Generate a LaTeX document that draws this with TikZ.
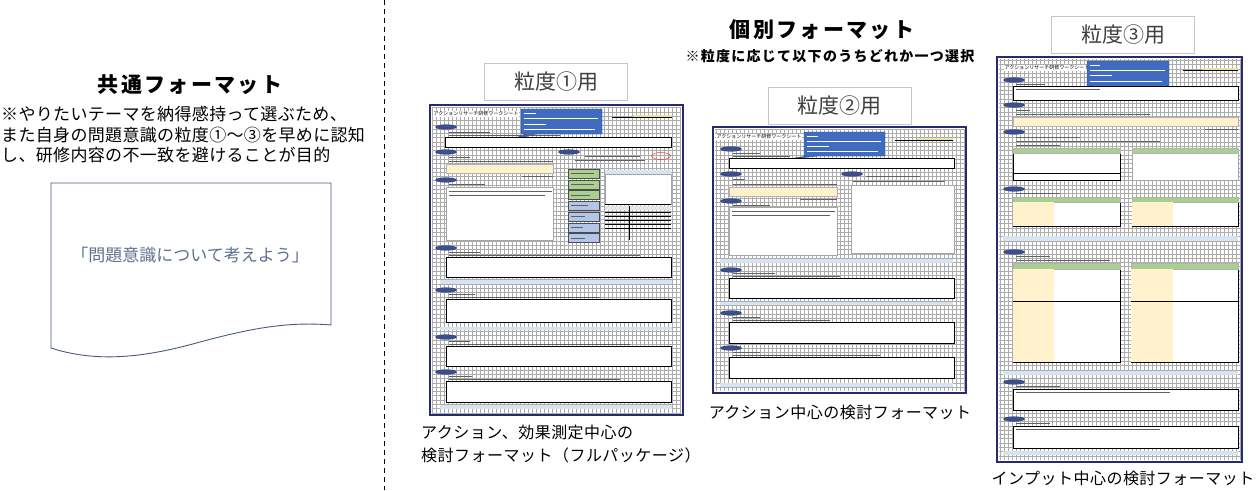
\documentclass[tikz,border=0pt]{standalone}
\usepackage{fontspec}
\setmainfont{Noto Sans CJK JP}
\usepackage{tikz}
\usetikzlibrary{positioning}
\definecolor{navy}{HTML}{262A6E}
\definecolor{markblue}{HTML}{3B4F8C}
\definecolor{callblue}{HTML}{3F6BC0}
\definecolor{paleyellow}{HTML}{FFF2CC}
\definecolor{paleblue}{HTML}{D6E4F2}
\definecolor{btngreen}{HTML}{A9D08E}
\definecolor{btnblue}{HTML}{B4C6E7}
\definecolor{docline}{HTML}{4A5A78}
\definecolor{doctext}{HTML}{5E7190}
\definecolor{labeltext}{HTML}{404040}
\definecolor{lineyellow}{HTML}{E8E4A0}
\tikzset{
    %Define style for headings
    heading/.style={
           inner sep=0pt,
           font=\bfseries\fontsize{21}{22}\selectfont\addfontfeature{LetterSpace=11}},
    subheading/.style={
           inner sep=0pt,
           font=\bfseries\fontsize{14}{16}\selectfont\addfontfeature{LetterSpace=9}},
    note/.style={
           inner sep=0pt,
           align=left,
           font=\fontsize{17}{20.5}\selectfont\addfontfeature{LetterSpace=2}},
    caption/.style={
           inner sep=0pt,
           font=\fontsize{16}{23}\selectfont\addfontfeature{LetterSpace=3}},
    %Define style for boxes
    labelbox/.style={
           rectangle,
           draw=gray!45, fill=white,
           line width=0.6pt,
           minimum width=143pt,
           minimum height=37pt,
           text=labeltext,
           font=\fontsize{21}{22}\selectfont},
    docshape/.style={
           draw=docline, fill=white,
           line width=0.9pt},
    doctext/.style={
           inner sep=0pt,
           text=doctext,
           font=\fontsize{17}{18}\selectfont},
    separator/.style={
           draw=black,
           line width=1pt,
           dash pattern=on 5pt off 4pt},
    %Define style for worksheet parts
    sheet/.style={draw=navy, line width=1.3pt, fill=white},
    gridbg/.style={draw=gray!65, line width=0.35pt, xstep=4pt, ystep=4.3pt},
    sheettitle/.style={
           inner sep=0.5pt,
           fill=white,
           font=\fontsize{5}{5}\selectfont},
    whitebox/.style={draw=black, fill=white, line width=0.6pt},
    softbox/.style={draw=gray!70, fill=white, line width=0.4pt},
    yellowbox/.style={draw=gray!60, fill=paleyellow, line width=0.4pt},
    greenhead/.style={draw=gray!60, fill=btngreen, line width=0.3pt},
    lightbar/.style={fill=paleblue},
    secmark/.style={fill=markblue, draw=navy, line width=0.3pt},
    callout/.style={fill=callblue, draw=callblue!70!black, line width=0.4pt},
    calltext/.style={draw=white, line width=0.7pt},
    txtline/.style={draw=gray!75!black, line width=0.45pt},
    greenbtn/.style={draw=black!70, fill=btngreen, line width=0.7pt},
    bluebtn/.style={draw=black!70, fill=btnblue, line width=0.7pt}
}
\begin{document}
\begin{tikzpicture}[x=1pt,y=-1pt]
\useasboundingbox (0,0) rectangle (1258,490);
 %common format
\node[heading](common) at (190,85){共通フォーマット};
\node[note, anchor=west](commonnote) at (1,135){※やりたいテーマを納得感持って選ぶため、\\また自身の問題意識の粒度①〜③を早めに認知\\し、研修内容の不一致を避けることが目的};
\draw[docshape] (51,183) -- (331,183) -- (331,325) .. controls (285,321) and (245,330) .. (200,342) .. controls (150,356) and (100,364) .. (51,348) -- cycle;
\node[doctext](doctitle) at (190,255){「問題意識について考えよう」};
 %separator
\coordinate (septop) at (384,0);
\coordinate (sepbot) at (384,490);
\draw[separator] (septop) -- (sepbot);
 %individual formats
\node[heading](indiv) at (822,30){個別フォーマット};
\node[subheading](indivnote) at (830,56){※粒度に応じて以下のうちどれか一つ選択};
\node[labelbox](lbl1) at (556,81.5){粒度①用};
\node[labelbox](lbl2) at (839.5,105.5){粒度②用};
\node[labelbox](lbl3) at (1123,34.5){粒度③用};
\node[caption, anchor=west, align=left](cap1) at (421,444.5){アクション、効果測定中心の\\検討フォーマット（フルパッケージ）};
\node[caption](cap2) at (840,412){アクション中心の検討フォーマット};
\node[caption](cap3) at (1123,478){インプット中心の検討フォーマット};

 %sheet 1
\path[sheet] (430,105) rectangle (683,415);
\draw[gridbg] (432,413) grid (681,107);
\draw[navy, line width=1.3pt] (430,105) rectangle (683,415);
\node[sheettitle, anchor=west](s1title) at (433,114){アクションリサーチ研修ワークシート};
\filldraw[callout] (521,109) -- (602,109) -- (602,134) -- (536,134) -- (505,142) -- (526,134) -- (521,134) -- cycle;
\draw[calltext] (524,113) -- (536,113) (524,118) -- (598,118) (524,124) -- (546,124) (524,129) -- (595,129);
\draw[black, line width=0.5pt] (612,117) -- (672,117);
\draw[lineyellow, line width=1.2pt] (633,116) -- (672,116);
\fill[secmark] (446,127) ellipse [x radius=10.5, y radius=2.3];
\draw[txtline] (449,132) -- (490,132) (449,135) -- (560,135);
\path[whitebox] (445,137) rectangle (671,147);
\fill[secmark] (446,152) ellipse [x radius=10.5, y radius=2.3];
\fill[secmark] (569,152) ellipse [x radius=10.5, y radius=2.3];
\draw[txtline] (449,157) -- (470,157) (449,161) -- (553,161);
\path[yellowbox] (446,164) rectangle (553,173);
\draw[txtline] (522,176) -- (553,176);
\fill[secmark] (446,180) ellipse [x radius=10.5, y radius=2.3];
\draw[txtline] (449,184) -- (485,184);
\path[softbox] (446,187) rectangle (553,240);
\draw[txtline] (449,191) -- (552,191) (449,195) -- (545,195);
\draw[txtline] (585,156) -- (640,156) (575,160) -- (645,160);
\draw[red!80, line width=0.5pt] (661,156) ellipse [x radius=9.5, y radius=3.5];
\path[greenbtn] (568,169) rectangle (599,178);
\path[greenbtn] (568,180) rectangle (599,189);
\path[greenbtn] (568,190.5) rectangle (599,199.5);
\path[bluebtn] (568,201) rectangle (599,210);
\path[bluebtn] (568,212) rectangle (599,221);
\path[bluebtn] (568,223) rectangle (599,232);
\path[bluebtn] (568,233.5) rectangle (599,242.5);
\draw[txtline] (571,173.5) -- (594,173.5) (571,184.5) -- (594,184.5) (571,195) -- (590,195) (571,205.5) -- (588,205.5) (571,216.5) -- (585,216.5) (571,227.5) -- (583,227.5) (571,238) -- (585,238);
\fill[paleblue] (605,170) rectangle (671,174);
\path[softbox] (605,174) rectangle (671,204);
\draw[black, line width=1pt] (605,204.5) -- (671,204.5);
\fill[gray!20] (605,206) rectangle (671,210);
\draw[black, line width=0.5pt] (605,212) -- (671,212) (605,216) -- (671,216) (605,220) -- (671,220) (605,224) -- (671,224) (605,228) -- (671,228);
\draw[black, line width=0.6pt] (629,206) -- (629,240);
\fill[secmark] (446,248) ellipse [x radius=10.5, y radius=2.3];
\draw[txtline] (449,252) -- (480,252) (449,255) -- (640,255);
\path[whitebox] (446,257) rectangle (671,277);
\fill[lightbar] (440,280) rectangle (672,284);
\fill[secmark] (446,290) ellipse [x radius=10.5, y radius=2.3];
\draw[txtline] (449,294) -- (475,294) (449,297) -- (600,297);
\path[whitebox] (446,299) rectangle (671,322);
\fill[lightbar] (440,327) rectangle (672,330);
\fill[secmark] (446,337) ellipse [x radius=10.5, y radius=2.3];
\draw[txtline] (449,341) -- (470,341) (449,344) -- (630,344);
\path[whitebox] (446,346) rectangle (671,366);
\fill[secmark] (446,372) ellipse [x radius=10.5, y radius=2.3];
\draw[txtline] (449,376) -- (472,376) (449,379) -- (620,379);
\path[whitebox] (446,381) rectangle (671,402);
\fill[lightbar] (440,405) rectangle (672,409);

 %sheet 2
\path[sheet] (713,127) rectangle (966,393);
\draw[gridbg] (715,391) grid (964,129);
\draw[navy, line width=1.3pt] (713,127) rectangle (966,393);
\node[sheettitle, anchor=west](s2title) at (716,137){アクションリサーチ研修ワークシート};
\filldraw[callout] (804,132) -- (885,132) -- (885,156) -- (818,156) -- (788,159) -- (808,156) -- (804,156) -- cycle;
\draw[calltext] (807,136) -- (818,136) (807,141) -- (881,141) (807,146) -- (829,146) (807,151) -- (878,151);
\draw[black, line width=0.5pt] (895,140) -- (953,140);
\draw[lineyellow, line width=1.2pt] (917,139) -- (953,139);
\fill[secmark] (731,149) ellipse [x radius=10.5, y radius=2.3];
\draw[txtline] (733,153) -- (760,153) (733,156) -- (790,156);
\path[whitebox] (729,158) rectangle (954,168);
\fill[secmark] (731,174) ellipse [x radius=10.5, y radius=2.3];
\fill[secmark] (852,174) ellipse [x radius=10.5, y radius=2.3];
\draw[txtline] (733,179) -- (745,179) (733,184) -- (837,184);
\draw[txtline] (866,176) -- (920,176) (853,181) -- (945,181);
\path[yellowbox] (729,187) rectangle (837,196);
\draw[txtline] (800,199) -- (837,199);
\fill[secmark] (731,201) ellipse [x radius=10.5, y radius=2.3];
\draw[txtline] (733,205) -- (770,205);
\path[softbox] (729,207) rectangle (837,255);
\draw[txtline] (732,211) -- (835,211) (732,215) -- (830,215);
\path[softbox] (851,185) rectangle (954,253);
\fill[lightbar] (720,259) rectangle (953,263);
\fill[secmark] (731,270) ellipse [x radius=10.5, y radius=2.3];
\draw[txtline] (733,273) -- (775,273) (733,276) -- (840,276);
\path[whitebox] (729,278) rectangle (954,298);
\fill[lightbar] (720,302) rectangle (953,305);
\fill[secmark] (731,313) ellipse [x radius=10.5, y radius=2.3];
\draw[txtline] (733,317) -- (760,317) (733,320) -- (830,320);
\path[whitebox] (729,322) rectangle (954,343);
\fill[secmark] (731,348) ellipse [x radius=10.5, y radius=2.3];
\draw[txtline] (733,352) -- (760,352) (733,355) -- (880,355);
\path[whitebox] (729,357) rectangle (954,378);
\fill[lightbar] (720,383) rectangle (953,387);

 %sheet 3
\path[sheet] (997,57) rectangle (1242,462);
\draw[gridbg] (999,460) grid (1240,59);
\draw[navy, line width=1.3pt] (997,57) rectangle (1242,462);
\node[sheettitle, anchor=west](s3title) at (1004,68){アクションリサーチ研修ワークシート};
\filldraw[callout] (1087,61) -- (1169,61) -- (1169,87) -- (1100,87) -- (1080,90) -- (1091,87) -- (1087,87) -- cycle;
\draw[calltext] (1090,65) -- (1100,65) (1090,70) -- (1165,70) (1090,75) -- (1112,75) (1090,81) -- (1162,81);
\draw[black, line width=0.5pt] (1183,70) -- (1238,70);
\draw[lineyellow, line width=1.2pt] (1203,69) -- (1238,69);
\fill[secmark] (1014,80) ellipse [x radius=10.5, y radius=2.3];
\draw[txtline] (1016,84) -- (1045,84);
\path[whitebox] (1013,86) rectangle (1238,100);
\draw[txtline] (1016,89) -- (1100,89);
\fill[secmark] (1014,105) ellipse [x radius=10.5, y radius=2.3];
\draw[txtline] (1016,110) -- (1030,110) (1016,114) -- (1150,114);
\path[yellowbox] (1013,117) rectangle (1238,126);
\draw[txtline] (1205,129) -- (1238,129);
\fill[secmark] (1014,132) ellipse [x radius=10.5, y radius=2.3];
\draw[txtline] (1016,137) -- (1080,137) (1016,141) -- (1160,141) (1016,145) -- (1060,145);
\path[whitebox] (1013,148) rectangle (1120,180);
\path[greenhead] (1013,148) rectangle (1120,153);
\draw[black, line width=0.6pt] (1013,173) -- (1120,173);
\path[softbox] (1132,148) rectangle (1238,180);
\path[greenhead] (1132,148) rectangle (1238,153);
\fill[secmark] (1014,189) ellipse [x radius=10.5, y radius=2.3];
\draw[txtline] (1016,193) -- (1060,193);
\path[whitebox] (1013,197) rectangle (1120,226);
\path[greenhead] (1013,197) rectangle (1120,202);
\fill[paleyellow] (1013.3,202.3) rectangle (1054,225.7);
\path[whitebox] (1132,197) rectangle (1238,226);
\path[greenhead] (1132,197) rectangle (1238,202);
\fill[paleyellow] (1132.3,202.3) rectangle (1173,225.7);
\fill[lightbar] (1003,236) rectangle (1238,241);
\fill[secmark] (1014,252) ellipse [x radius=10.5, y radius=2.3];
\draw[txtline] (1016,256) -- (1050,256) (1016,260) -- (1110,260);
\path[whitebox] (1013,263) rectangle (1120,362);
\path[greenhead] (1013,263) rectangle (1120,269);
\fill[paleyellow] (1013.3,269.3) rectangle (1054,361.7);
\draw[black, line width=0.6pt] (1013,301) -- (1120,301);
\path[whitebox] (1131,263) rectangle (1238,362);
\path[greenhead] (1131,263) rectangle (1238,269);
\fill[paleyellow] (1131.3,269.3) rectangle (1173,361.7);
\draw[black, line width=0.6pt] (1131,301) -- (1238,301);
\fill[lightbar] (1003,371) rectangle (1238,375);
\fill[secmark] (1014,382) ellipse [x radius=10.5, y radius=2.3];
\draw[txtline] (1016,386) -- (1060,386);
\path[whitebox] (1013,389) rectangle (1238,410);
\draw[txtline] (1016,392) -- (1170,392);
\fill[secmark] (1014,419) ellipse [x radius=10.5, y radius=2.3];
\draw[txtline] (1016,423) -- (1050,423);
\path[whitebox] (1013,426) rectangle (1238,448);
\draw[txtline] (1016,429) -- (1160,429);
\fill[lightbar] (1003,451) rectangle (1238,455);
\end{tikzpicture}
\end{document}
